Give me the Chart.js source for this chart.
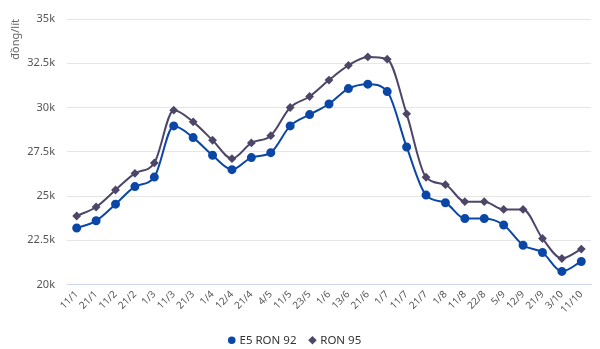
<!DOCTYPE html>
<html><head><meta charset="utf-8">
<script src="https://cdn.jsdelivr.net/npm/chart.js@4"></script>
<style>html,body{margin:0;padding:0;background:#fff}#wrap{width:600px;height:349px;position:relative}</style>
</head><body><div id="wrap"><canvas id="c" width="600" height="349"></canvas></div>
<script>
const categories = ["11/1","21/1","11/2","21/2","1/3","11/3","21/3","1/4","12/4","21/4","4/5","11/5","23/5","1/6","13/6","21/6","1/7","11/7","21/7","1/8","11/8","22/8","5/9","12/9","21/9","3/10","11/10"];
const e5Ron92 = [23190,23600,24540,25530,26070,28960,28300,27300,26490,27170,27450,28960,29600,30200,31070,31320,30900,27770,25050,24620,23730,23730,23360,22220,21810,20740,21300];
const ron95 = [23870,24380,25340,26280,26870,29850,29190,28150,27110,28000,28410,30000,30620,31550,32380,32860,32730,29640,26060,25640,24680,24680,24240,24240,22600,21470,22000];
const yTicks = [20000,22500,25000,27500,30000,32500,35000];
const yTitle = "đồng/lít";

const fontFam = "'Noto Sans', 'Open Sans', sans-serif";
new Chart(document.getElementById('c'), {
  type: 'line',
  data: {
    labels: categories,
    datasets: [
      {label: 'E5 RON 92', data: e5Ron92, borderColor: '#0b47a6', backgroundColor: '#0b47a6', borderWidth: 2,
       pointStyle: 'circle', pointRadius: 3.5, pointHoverRadius: 3.5, cubicInterpolationMode: 'monotone'},
      {label: 'RON 95', data: ron95, borderColor: '#4e4668', backgroundColor: '#4e4668', borderWidth: 2,
       pointStyle: 'rectRot', pointRadius: 3, pointHoverRadius: 3, cubicInterpolationMode: 'monotone'}
    ]
  },
  options: {
    responsive: false, animation: false,
    layout: {padding: {left: 0, right: 9, top: 19, bottom: -7}},
    plugins: {
      tooltip: {enabled: false},
      legend: {position: 'bottom',
        labels: {usePointStyle: true, boxWidth: 4, boxHeight: 4, padding: 14, color: '#333',
          font: {family: fontFam, size: 11.5}}}
    },
    scales: {
      x: {
        offset: true,
        grid: {display: false, drawTicks: false},
        border: {color: '#ccd6eb', width: 1},
        ticks: {maxRotation: 45, minRotation: 45, autoSkip: false, color: '#555', padding: 4,
          font: {family: fontFam, size: 10}},
        afterFit: s => { s.height = 36; }
      },
      y: {
        min: 20000, max: 35000,
        afterBuildTicks: s => { s.ticks = yTicks.map(v => ({value: v})); },
        grid: {color: '#e6e6e6', drawTicks: false},
        border: {display: false},
        ticks: {color: '#555', padding: 12, font: {family: fontFam, size: 11},
          callback: v => (v/1000) + 'k'},
        title: {display: true, text: yTitle, align: 'end', color: '#666', font: {family: fontFam, size: 11}, padding: {top: 9, bottom: 0}},
        afterFit: s => { s.width = 67; }
      }
    }
  }
});
</script></body></html>
